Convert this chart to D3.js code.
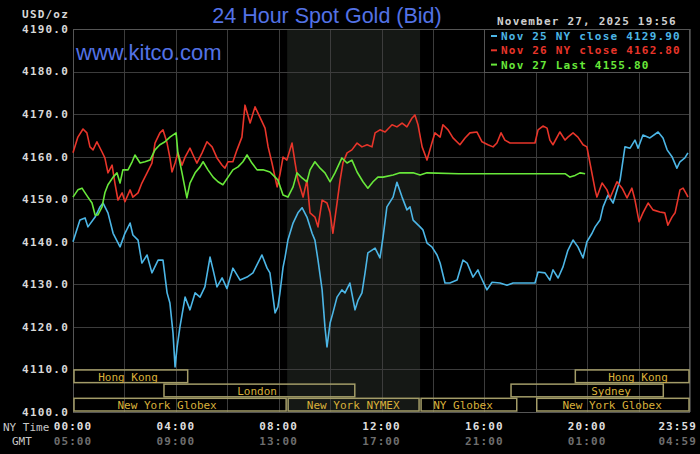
<!DOCTYPE html>
<html>
<head>
<meta charset="utf-8">
<script src="https://cdn.jsdelivr.net/npm/d3@7"></script>
<style>
  html, body { margin: 0; padding: 0; background: #000; }
  svg { display: block; }
</style>
</head>
<body>
<div id="app"></div>
<script>
// values: [NY hour, USD/oz]
const nov25 = [
  [0,4140.0],[0.27,4145.1],[0.47,4145.6],[0.58,4143.5],[0.86,4145.8],[1.05,4148.2],[1.17,4149.1],[1.36,4146.8],
  [1.56,4142.0],[1.83,4138.8],[2.02,4142.0],[2.22,4144.4],[2.33,4141.6],[2.53,4140.4],[2.68,4135.0],[2.88,4136.9],
  [3.07,4132.7],[3.31,4135.7],[3.50,4135.7],[3.66,4128.0],[3.77,4125.6],[3.89,4118.6],[3.97,4110.6],[4.05,4115.3],
  [4.16,4120.0],[4.36,4127.0],[4.55,4124.0],[4.75,4128.0],[4.94,4127.0],[5.13,4129.4],[5.33,4136.4],[5.45,4133.4],
  [5.60,4129.4],[5.80,4131.5],[5.99,4129.0],[6.22,4133.8],[6.50,4131.0],[6.77,4131.7],[7.00,4132.7],[7.35,4136.9],
  [7.55,4133.8],[7.66,4132.7],[7.86,4123.3],[7.97,4124.7],[8.05,4128.0],[8.17,4134.0],[8.25,4136.4],[8.36,4140.4],
  [8.56,4144.4],[8.75,4146.8],[8.91,4148.0],[9.10,4145.8],[9.30,4142.0],[9.41,4140.4],[9.53,4135.7],[9.69,4128.7],
  [9.80,4120.0],[9.88,4115.3],[10.00,4120.9],[10.11,4123.3],[10.27,4127.0],[10.46,4128.7],[10.58,4128.0],[10.77,4130.3],
  [10.97,4124.0],[11.09,4126.3],[11.24,4128.0],[11.36,4132.7],[11.47,4137.4],[11.75,4138.5],[11.94,4136.2],[12.06,4141.1],
  [12.21,4148.2],[12.45,4150.5],[12.60,4154.0],[12.80,4150.5],[12.99,4147.5],[13.11,4148.2],[13.23,4145.1],[13.50,4143.5],
  [13.61,4142.8],[13.77,4139.7],[13.96,4138.8],[14.16,4136.9],[14.28,4135.0],[14.47,4130.3],[14.66,4130.3],[14.94,4131.0],
  [15.17,4135.7],[15.33,4135.0],[15.56,4131.7],[15.75,4133.4],[15.83,4132.2],[16.10,4128.7],[16.30,4130.5],[16.61,4130.3],
  [16.88,4129.8],[17.12,4130.3],[17.97,4130.3],[18.09,4132.9],[18.36,4132.7],[18.55,4131.0],[18.67,4133.4],[18.87,4131.5],
  [19.06,4134.1],[19.25,4138.0],[19.45,4140.4],[19.64,4138.8],[19.84,4136.2],[19.99,4140.0],[20.19,4142.0],[20.31,4143.5],
  [20.50,4145.1],[20.62,4148.2],[20.81,4151.0],[21.01,4149.1],[21.28,4154.5],[21.47,4162.3],[21.67,4162.0],[21.86,4163.9],
  [21.98,4162.0],[22.17,4165.1],[22.44,4164.4],[22.76,4165.8],[22.95,4164.4],[23.11,4161.6],[23.30,4160.0],[23.49,4157.3],
  [23.61,4158.8],[23.80,4159.7],[23.92,4160.9]
];

const nov26 = [
  [0,4160.9],[0.19,4164.6],[0.39,4166.5],[0.54,4165.6],[0.66,4162.3],[0.78,4161.6],[0.93,4163.5],[1.13,4161.1],
  [1.24,4159.7],[1.36,4156.2],[1.52,4158.0],[1.63,4153.8],[1.75,4149.8],[1.91,4151.5],[2.02,4149.4],[2.22,4152.2],
  [2.33,4150.5],[2.53,4151.5],[2.68,4153.8],[2.88,4156.2],[3.07,4158.5],[3.19,4163.2],[3.38,4165.6],[3.50,4166.3],
  [3.66,4163.2],[3.77,4159.7],[3.85,4156.4],[3.97,4158.5],[4.08,4160.9],[4.24,4158.0],[4.36,4159.9],[4.55,4162.0],
  [4.67,4160.4],[4.82,4158.5],[5.02,4160.9],[5.21,4163.5],[5.41,4162.3],[5.60,4159.7],[5.80,4158.0],[5.91,4157.3],
  [6.03,4158.8],[6.22,4158.8],[6.38,4161.6],[6.57,4164.6],[6.69,4172.1],[6.89,4167.9],[7.08,4171.7],[7.27,4169.3],
  [7.47,4166.7],[7.59,4162.3],[7.74,4158.5],[7.94,4152.9],[8.05,4155.8],[8.17,4159.9],[8.32,4159.2],[8.52,4163.2],
  [8.64,4158.5],[8.75,4154.5],[8.95,4150.5],[9.10,4154.5],[9.22,4146.8],[9.41,4145.8],[9.53,4143.5],[9.69,4149.8],
  [9.88,4149.1],[10.00,4146.8],[10.11,4142.0],[10.27,4149.1],[10.39,4154.5],[10.50,4158.5],[10.66,4160.9],[10.85,4161.6],
  [11.05,4163.2],[11.24,4162.3],[11.44,4162.8],[11.63,4162.3],[11.75,4165.6],[11.94,4166.3],[12.14,4165.8],[12.41,4167.5],
  [12.60,4167.0],[12.80,4167.9],[12.99,4167.0],[13.19,4169.1],[13.30,4169.8],[13.42,4167.5],[13.58,4162.3],[13.77,4159.2],
  [13.96,4163.2],[14.08,4165.6],[14.28,4164.6],[14.39,4167.5],[14.59,4166.3],[14.78,4164.4],[15.05,4162.8],[15.25,4164.4],
  [15.44,4165.6],[15.71,4165.8],[15.91,4163.5],[16.14,4162.8],[16.34,4162.3],[16.49,4163.2],[16.65,4165.6],[16.80,4163.9],
  [17.00,4163.2],[17.97,4163.2],[18.09,4166.3],[18.28,4167.2],[18.44,4166.7],[18.55,4163.9],[18.67,4162.8],[18.94,4165.8],
  [19.14,4163.9],[19.25,4164.6],[19.45,4165.6],[19.64,4164.6],[19.84,4162.8],[19.99,4162.3],[20.11,4158.5],[20.31,4152.2],
  [20.38,4150.5],[20.58,4153.8],[20.77,4152.2],[20.89,4150.3],[21.16,4154.1],[21.36,4152.6],[21.55,4150.3],[21.74,4152.6],
  [21.86,4149.8],[22.02,4144.7],[22.17,4146.8],[22.37,4149.1],[22.56,4147.5],[22.83,4147.0],[23.02,4146.8],[23.14,4143.9],
  [23.30,4145.8],[23.42,4146.8],[23.61,4152.2],[23.73,4152.6],[23.88,4151.0],[23.92,4150.5]
];

const nov27 = [
  [0,4150.5],[0.19,4152.2],[0.35,4152.6],[0.47,4151.5],[0.58,4150.5],[0.74,4149.1],[0.86,4146.3],[0.97,4146.3],
  [1.13,4148.2],[1.24,4151.5],[1.36,4153.4],[1.56,4155.2],[1.71,4156.2],[1.83,4153.8],[1.94,4156.9],[2.14,4156.9],
  [2.30,4158.8],[2.41,4160.4],[2.61,4158.5],[2.80,4158.8],[3.00,4159.2],[3.19,4161.6],[3.38,4162.8],[3.58,4163.5],
  [3.77,4164.6],[4.01,4165.6],[4.08,4160.9],[4.24,4156.2],[4.43,4150.3],[4.55,4153.8],[4.75,4156.2],[4.94,4157.6],
  [5.06,4158.8],[5.25,4156.9],[5.45,4155.2],[5.64,4154.1],[5.83,4153.4],[6.03,4155.2],[6.22,4156.9],[6.42,4157.6],
  [6.61,4158.8],[6.77,4160.4],[6.96,4158.5],[7.16,4156.9],[7.39,4156.9],[7.66,4156.4],[7.86,4155.2],[7.97,4154.5],
  [8.17,4151.0],[8.36,4150.5],[8.56,4152.9],[8.71,4156.2],[8.91,4155.0],[9.10,4154.1],[9.22,4156.9],[9.41,4158.8],
  [9.61,4157.3],[9.80,4156.2],[10.00,4154.1],[10.19,4156.2],[10.46,4159.7],[10.66,4158.5],[10.85,4159.2],[11.05,4156.4],
  [11.28,4154.1],[11.47,4152.6],[11.67,4154.1],[11.86,4155.2],[12.06,4155.2],[12.45,4155.7],[12.72,4156.2],[13.23,4156.2],
  [13.50,4155.7],[13.77,4156.2],[15.00,4156.0],[17.00,4156.0],[18.50,4156.0],[19.14,4156.0],[19.33,4155.2],[19.53,4155.6],
  [19.72,4156.2],[19.92,4156.0]
];

const legendLabels = ["Nov 25 NY close 4129.90", "Nov 26 NY close 4162.80", "Nov 27 Last 4155.80"];
const yTicks = d3.range(4100, 4191, 10);
const xGrid = d3.range(0, 25, 2);
const nyTicks = [0, 4, 8, 12, 16, 20];
const nyLabels = ["00:00", "04:00", "08:00", "12:00", "16:00", "20:00"];
const gmtLabels = ["05:00", "09:00", "13:00", "17:00", "21:00", "01:00"];
const nymexHours = [8.33, 13.5];
// [row, start, end, label centre, name]
const sessions = [
  [0, 0, 4.5, 2.14, "Hong Kong"],
  [0, 19.5, 24, 21.98, "Hong Kong"],
  [1, 3.5, 11, 7.16, "London"],
  [1, 17, 23, 20.93, "Sydney"],
  [2, 0, 8.33, 3.66, "New York Globex"],
  [2, 8.33, 13.5, 10.9, "New York NYMEX"],
  [2, 13.5, 17.3, 15.17, "NY Globex"],
  [2, 18, 24, 20.97, "New York Globex"]
];

const width = 700;
const height = 454;
const marginTop = 29;
const marginRight = 10;
const marginBottom = 42;
const marginLeft = 73;

const blue = "#4cb6e6", red = "#e8352a", green = "#68e83a";
const mono = "'DejaVu Sans Mono', monospace";

const x = d3.scaleLinear().domain([0, 24]).range([marginLeft, width - marginRight]);
const y = d3.scaleLinear().domain([4100, 4190]).range([height - marginBottom, marginTop]);

const svg = d3.select("#app").append("svg")
  .attr("width", width).attr("height", height)
  .attr("viewBox", [0, 0, width, height]);

svg.append("rect").attr("width", width).attr("height", height).attr("fill", "#000");

// NYMEX shading
svg.append("rect")
  .attr("x", x(nymexHours[0])).attr("y", marginTop)
  .attr("width", x(nymexHours[1]) - x(nymexHours[0]))
  .attr("height", y(4100) - marginTop)
  .attr("fill", "#151815");

// grid
const grid = svg.append("g").attr("stroke", "#3c3c3c").attr("stroke-width", 1);
grid.selectAll("line.v").data(xGrid).join("line")
  .attr("x1", d => Math.round(x(d)) + 0.5).attr("x2", d => Math.round(x(d)) + 0.5)
  .attr("y1", marginTop).attr("y2", y(4100));
grid.selectAll("line.h").data(yTicks.filter(d => d >= 4110)).join("line")
  .attr("x1", marginLeft).attr("x2", width - marginRight)
  .attr("y1", d => Math.round(y(d)) + 0.5).attr("y2", d => Math.round(y(d)) + 0.5);

svg.append("rect")
  .attr("x", marginLeft + 0.5).attr("y", marginTop + 0.5)
  .attr("width", width - marginRight - marginLeft - 1).attr("height", y(4100) - marginTop)
  .attr("fill", "none").attr("stroke", "#555");

// session boxes
const rowH = (y(4100) - y(4110)) / 3;
const sess = svg.append("g");
sess.selectAll("rect").data(sessions).join("rect")
  .attr("x", d => x(d[1]) + 1)
  .attr("y", d => y(4110) + d[0] * rowH + 0.5)
  .attr("width", d => x(d[2]) - x(d[1]) - 2)
  .attr("height", rowH - 1.5)
  .attr("fill", "none")
  .attr("stroke", "#a39c68")
  .attr("stroke-width", 1.5);
sess.selectAll("text").data(sessions).join("text")
  .attr("x", d => x(d[3]))
  .attr("y", d => y(4110) + d[0] * rowH + rowH - 3)
  .attr("text-anchor", "middle")
  .attr("font-family", mono).attr("font-size", 11)
  .attr("fill", "#d9b03a")
  .text(d => d[4]);

// lines
const line = d3.line().x(d => x(d[0])).y(d => y(d[1]));
[[nov25, blue], [nov26, red], [nov27, green]].forEach(([data, c]) => {
  svg.append("path").datum(data)
    .attr("fill", "none").attr("stroke", c).attr("stroke-width", 1.6)
    .attr("stroke-linejoin", "round")
    .attr("d", line);
});

// y axis labels
svg.append("g").selectAll("text").data(yTicks).join("text")
  .attr("x", 69).attr("y", d => y(d)).attr("dy", "0.35em")
  .attr("text-anchor", "end")
  .attr("font-family", mono).attr("font-size", 11).attr("font-weight", "bold")
  .attr("letter-spacing", 1.2)
  .attr("fill", "#d8d8d8")
  .text(d => d.toFixed(1));
svg.append("text").attr("x", 69).attr("y", 18).attr("text-anchor", "end")
  .attr("font-family", mono).attr("font-size", 11).attr("font-weight", "bold")
  .attr("letter-spacing", 1.2).attr("fill", "#d8d8d8").text("USD/oz");

// x axis labels
const xl = svg.append("g").attr("font-family", mono).attr("font-size", 11)
  .attr("font-weight", "bold").attr("letter-spacing", 1.1).attr("text-anchor", "middle");
xl.selectAll("text.ny").data(nyTicks).join("text")
  .attr("x", d => x(d)).attr("y", 430).attr("fill", "#dedede")
  .text((d, i) => nyLabels[i]);
xl.selectAll("text.gmt").data(nyTicks).join("text")
  .attr("x", d => x(d)).attr("y", 445).attr("fill", "#6e6e6e")
  .text((d, i) => gmtLabels[i]);
xl.append("text").attr("x", 697).attr("y", 430).attr("text-anchor", "end").attr("fill", "#dedede").text("23:59");
xl.append("text").attr("x", 697).attr("y", 445).attr("text-anchor", "end").attr("fill", "#6e6e6e").text("04:59");
svg.append("text").attr("x", 3).attr("y", 431).attr("font-family", mono).attr("font-size", 11)
  .attr("fill", "#c8c8c8").text("NY Time");
svg.append("text").attr("x", 12).attr("y", 445).attr("font-family", mono).attr("font-size", 11)
  .attr("fill", "#c8c8c8").text("GMT");

// titles
svg.append("text").attr("x", 327).attr("y", 23).attr("text-anchor", "middle")
  .attr("font-family", "'Liberation Sans', Arial, sans-serif").attr("font-size", 21.5)
  .attr("fill", "#5372e6").text("24 Hour Spot Gold (Bid)");
svg.append("text").attr("x", 76).attr("y", 60)
  .attr("font-family", "'Liberation Sans', Arial, sans-serif").attr("font-size", 22)
  .attr("fill", "#5372e6").text("www.kitco.com");
svg.append("text").attr("x", 497).attr("y", 25)
  .attr("font-family", mono).attr("font-size", 11).attr("font-weight", "bold")
  .attr("letter-spacing", 1.2).attr("fill", "#cfcfcf").text("November 27, 2025 19:56");

// legend
const lg = svg.append("g");
lg.append("rect").attr("x", 484.5).attr("y", marginTop + 0.5)
  .attr("width", width - marginRight - 485).attr("height", 43)
  .attr("fill", "#000").attr("stroke", "#555");
const colors = [blue, red, green];
lg.selectAll("line").data(legendLabels).join("line")
  .attr("x1", 491).attr("x2", 497)
  .attr("y1", (d, i) => 36 + i * 14.3).attr("y2", (d, i) => 36 + i * 14.3)
  .attr("stroke", (d, i) => colors[i]).attr("stroke-width", 2);
lg.selectAll("text").data(legendLabels).join("text")
  .attr("x", 501).attr("y", (d, i) => 40 + i * 14.3)
  .attr("font-family", mono).attr("font-size", 11).attr("font-weight", "bold")
  .attr("letter-spacing", 1.2)
  .attr("fill", (d, i) => colors[i])
  .text(d => d);
</script>
</body>
</html>
